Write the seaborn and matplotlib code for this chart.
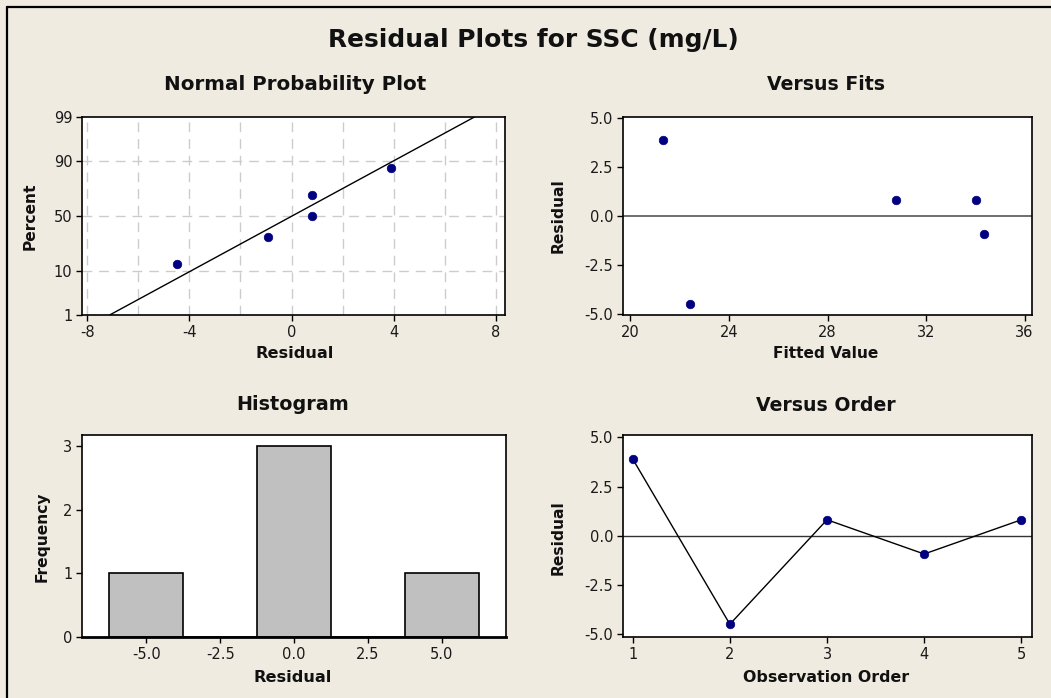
import numpy as np
import pandas as pd
import seaborn as sns
import matplotlib
matplotlib.use("Agg")
import matplotlib.pyplot as plt
from matplotlib.lines import Line2D
from statistics import NormalDist

# values
residuals = [3.9, -4.5, 0.81, -0.93, 0.81]
fitted = [21.31, 22.42, 30.76, 34.34, 34.04]
obs_order = [1, 2, 3, 4, 5]
prob_percent = [12.96, 31.48, 50.0, 68.52, 87.04]   # plotting positions of sorted residuals
prob_ticks = [1, 10, 50, 90, 99]
hist_edges = [-6.25, -3.75, -1.25, 1.25, 3.75, 6.25]

BG = '#EFEBE1'
NAVY = '#000080'
W, H = 1051, 698

sns.set_style("ticks")
plt.rcParams['font.family'] = ['DejaVu Sans']
plt.rcParams['axes.unicode_minus'] = False
plt.rcParams['axes.edgecolor'] = 'black'
plt.rcParams['axes.linewidth'] = 1.2
plt.rcParams['xtick.color'] = 'black'
plt.rcParams['ytick.color'] = 'black'
plt.rcParams['xtick.labelcolor'] = '#1a1a1a'
plt.rcParams['ytick.labelcolor'] = '#1a1a1a'

fig = plt.figure(figsize=(W / 100, H / 100), dpi=100, facecolor=BG)


def px_axes(x0, y0, x1, y1):
    # axes from pixel box (top-left origin)
    return fig.add_axes([x0 / W, 1 - y1 / H, (x1 - x0) / W, (y1 - y0) / H])


def style(ax, title, xlabel, ylabel, tx, ty, xl_y, yl_x, tsize=14, xsize=11.6):
    ax.set_facecolor('white')
    ax.tick_params(length=4, width=1, labelsize=10.5, pad=3)
    ax.set_xlabel('')
    ax.set_ylabel('')
    fig.text(tx / W, 1 - ty / H, title, ha='center', va='center',
             fontsize=tsize, fontweight='bold', color='#111111')
    fig.text(tx / W, 1 - xl_y / H, xlabel, ha='center', va='center',
             fontsize=xsize, fontweight='bold', color='#111111')
    fig.text(yl_x / W, 1 - (ty + 132) / H, ylabel, ha='center', va='center',
             rotation=90, fontsize=11.2, fontweight='bold', color='#111111')


fig.text(533 / W, 1 - 40 / H, 'Residual Plots for SSC (mg/L)', ha='center', va='center',
         fontsize=17.9, fontweight='bold', color='#111111')

# border lines of the Minitab panel
fig.add_artist(Line2D([7 / W, 1], [1 - 7 / H, 1 - 7 / H], transform=fig.transFigure,
                      color='black', lw=1.6))
fig.add_artist(Line2D([7 / W, 7 / W], [0, 1 - 7 / H], transform=fig.transFigure,
                      color='black', lw=1.6))

nd = NormalDist()

# ---- Normal Probability Plot
ax1 = px_axes(82, 117, 505, 315)
df_prob = pd.DataFrame({'res': sorted(residuals),
                        'z': [nd.inv_cdf(p / 100) for p in prob_percent]})
mu, sd = np.mean(residuals), np.std(residuals, ddof=1)
zline = np.array([nd.inv_cdf(0.01), nd.inv_cdf(0.99)])
sns.lineplot(x=mu + sd * zline, y=zline, color='black', lw=1, ax=ax1)
sns.scatterplot(data=df_prob, x='res', y='z', color=NAVY, s=38, edgecolor=NAVY, ax=ax1, zorder=3)
ax1.set_xlim(-8.2, 8.35)
ax1.set_ylim(nd.inv_cdf(0.01), nd.inv_cdf(0.99))
ax1.set_xticks([-8, -4, 0, 4, 8])
ax1.set_yticks([nd.inv_cdf(p / 100) for p in prob_ticks])
ax1.set_yticklabels([str(p) for p in prob_ticks])
for xv in range(-8, 9, 2):
    ax1.axvline(xv, color='#cccccc', lw=1, ls=(0, (7, 5)), zorder=0)
for p in [10, 50, 90]:
    ax1.axhline(nd.inv_cdf(p / 100), color='#cccccc', lw=1, ls=(0, (7, 5)), zorder=0)
style(ax1, 'Normal Probability Plot', 'Residual', 'Percent', 295, 84, 354, 30, tsize=14.3)

# ---- Versus Fits
ax2 = px_axes(623, 117, 1032, 315)
sns.scatterplot(x=fitted, y=residuals, color=NAVY, s=38, edgecolor=NAVY, ax=ax2, zorder=3)
ax2.axhline(0, color='#555555', lw=1.2, zorder=1)
ax2.set_xlim(19.7, 36.3)
ax2.set_ylim(-5.05, 5.05)
ax2.set_xticks([20, 24, 28, 32, 36])
ax2.set_yticks([5.0, 2.5, 0.0, -2.5, -5.0])
ax2.set_yticklabels(['5.0', '2.5', '0.0', '-2.5', '-5.0'])
style(ax2, 'Versus Fits', 'Fitted Value', 'Residual', 826, 84, 354, 558,
      tsize=13.6, xsize=11.1)

# ---- Histogram
ax3 = px_axes(82, 435, 506, 637)
sns.histplot(x=residuals, bins=hist_edges, color='#C0C0C0', edgecolor='black',
             linewidth=1.2, alpha=1, ax=ax3)
ax3.set_xlim(-7.18, 7.18)
ax3.set_ylim(0, 3.17)
ax3.set_xticks([-5.0, -2.5, 0.0, 2.5, 5.0])
ax3.set_xticklabels(['-5.0', '-2.5', '0.0', '2.5', '5.0'])
ax3.set_yticks([0, 1, 2, 3])
ax3.spines['bottom'].set_linewidth(2)
style(ax3, 'Histogram', 'Residual', 'Frequency', 293, 405, 677, 42, tsize=13.8)

# ---- Versus Order
ax4 = px_axes(623, 435, 1032, 637)
sns.lineplot(x=obs_order, y=residuals, color='black', lw=1, ax=ax4)
sns.scatterplot(x=obs_order, y=residuals, color=NAVY, s=38, edgecolor=NAVY, ax=ax4, zorder=3)
ax4.axhline(0, color='#333333', lw=1, zorder=1)
ax4.set_xlim(0.9, 5.11)
ax4.set_ylim(-5.15, 5.12)
ax4.set_xticks(obs_order)
ax4.set_yticks([5.0, 2.5, 0.0, -2.5, -5.0])
ax4.set_yticklabels(['5.0', '2.5', '0.0', '-2.5', '-5.0'])
style(ax4, 'Versus Order', 'Observation Order', 'Residual', 826, 406, 678, 558,
      tsize=13.6, xsize=11.4)

fig.savefig('out.png', dpi=100, facecolor=BG, edgecolor='none')
